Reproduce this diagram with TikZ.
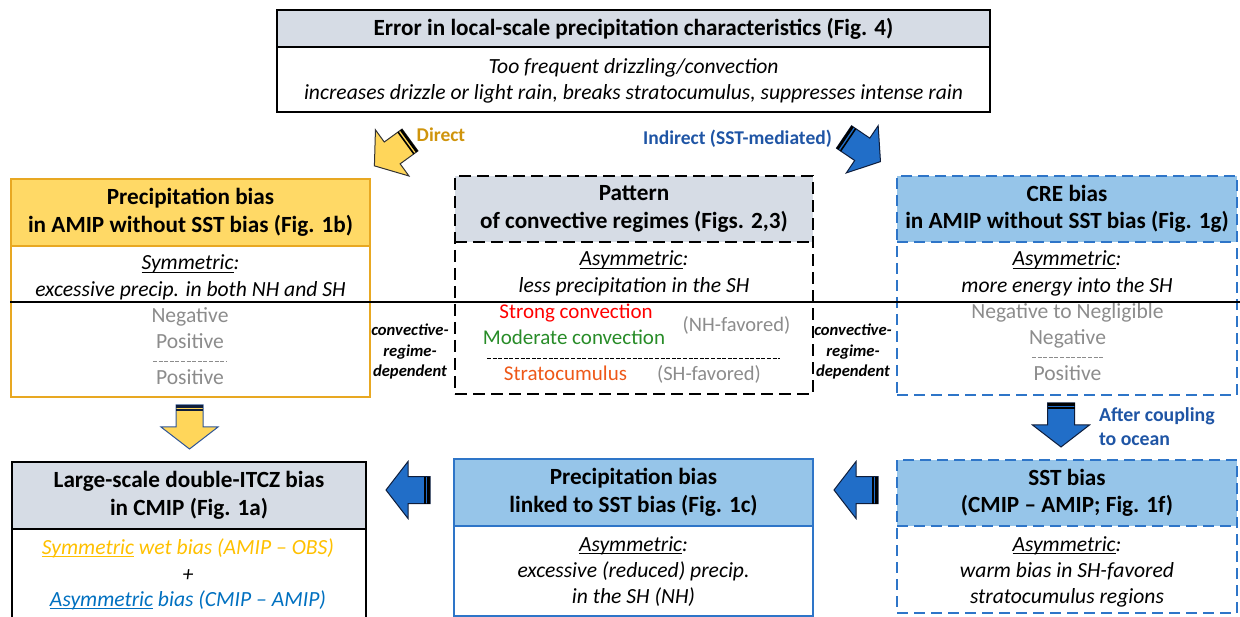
\documentclass[tikz,border=0pt]{standalone}
\usepackage{fontspec}
\setmainfont{Carlito}
\usepackage{xcolor}
\usepackage{tikz}
\usetikzlibrary{calc}

\definecolor{hdrgray}{RGB}{214,220,229}
\definecolor{hdrgold}{RGB}{255,217,102}
\definecolor{edgegold}{RGB}{232,168,34}
\definecolor{txtgold}{RGB}{207,148,12}
\definecolor{hdrblue}{RGB}{150,197,233}
\definecolor{edgeblue}{RGB}{46,117,200}
\definecolor{arrblue}{RGB}{33,110,200}
\definecolor{arrnavy}{RGB}{15,30,60}
\definecolor{txtblue}{RGB}{31,85,165}
\definecolor{valgray}{RGB}{140,140,140}
\definecolor{convgreen}{RGB}{40,140,40}
\definecolor{scorange}{RGB}{238,88,24}
\definecolor{symgold}{RGB}{255,192,0}
\definecolor{asymblue}{RGB}{0,112,192}
\definecolor{arryellow}{RGB}{255,214,90}
\definecolor{yedge}{RGB}{47,85,151}

% underlined word, line through the descenders
\newcommand{\uword}[1]{\setbox0\hbox{#1}\rlap{\rule[-2.6pt]{\wd0}{0.9pt}}\box0\relax}
% block arrow: [scale]{tail}{angle}{fill}{edge}{stripes}
\newcommand{\blockarrow}[6][1]{%
  \begin{scope}[shift={#2}, rotate=#3, x=1pt, y=1pt, scale=#1]
    \filldraw[fill=#4, draw=#5, line width=1pt, line join=miter]
      (0,-13.5) -- (22,-13.5) -- (22,-28.5) -- (44,0) -- (22,28.5) -- (22,13.5) -- (0,13.5) -- cycle;
    \fill[#6] (0,-13.5) rectangle (2.6,13.5);
    \fill[#6] (4.2,-13.5) rectangle (5.8,13.5);
  \end{scope}}

\begin{document}
\begin{tikzpicture}[x=1pt, y=-1pt,
    every node/.style={inner sep=0pt, outer sep=0pt},
    hdr/.style={anchor=north west, align=center, font=\fontsize{23.2}{27.5}\selectfont\bfseries},
    frame/.style={anchor=north west, draw},
    txt/.style={font=\fontsize{21.6}{25}\selectfont, text height=15pt, text depth=3pt},
    itx/.style={txt, font=\fontsize{21.6}{25}\selectfont\itshape},
    val/.style={txt, text=valgray},
    regtxt/.style={txt, font=\fontsize{21}{25}\selectfont},
    convlbl/.style={align=center, font=\fontsize{16.6}{20.5}\selectfont\bfseries\itshape},
    arrlbl/.style={anchor=base, font=\fontsize{19.5}{24}\selectfont\bfseries},
    solidblack/.style={draw=black, line width=1.5pt},
    solidgold/.style={draw=edgegold, line width=2pt},
    solidblue/.style={draw=edgeblue, line width=2pt},
    dashblack/.style={draw=black, line width=1.8pt, dash pattern=on 12pt off 6pt},
    dashblue/.style={draw=edgeblue, line width=1.8pt, dash pattern=on 11pt off 6pt},
    sepline/.style={dash pattern=on 4pt off 1.6pt, line width=0.9pt}]
  \useasboundingbox (0,0) rectangle (1240,617);

  % boxes
  \node[hdr, fill=hdrgray, minimum width=713, minimum height=37] (errh) at (277,10) {Error in local-scale precipitation characteristics (Fig. 4)};
  \node[frame, solidblack, minimum width=713, minimum height=102] (errbox) at (277,10) {};
  \draw[solidblack] (errh.south west) -- (errh.south east);

  \node[hdr, fill=hdrgold, minimum width=359, minimum height=67] (amiph) at (11,179) {Precipitation bias\\in AMIP without SST bias (Fig. 1b)};
  \node[frame, solidgold, minimum width=359, minimum height=218] (amipbox) at (11,179) {};
  \draw[solidgold] (amiph.south west) -- (amiph.south east);

  \node[hdr, fill=hdrgray, minimum width=358, minimum height=66] (regh) at (455,176) {Pattern\\of convective regimes (Figs. 2,3)};
  \node[frame, dashblack, minimum width=358, minimum height=218] (regbox) at (455,176) {};
  \draw[dashblack] (regh.south west) -- (regh.south east);

  \node[hdr, fill=hdrblue, minimum width=340, minimum height=66] (creh) at (897,176) {CRE bias\\in AMIP without SST bias (Fig. 1g)};
  \node[frame, dashblue, minimum width=340, minimum height=219] (crebox) at (897,176) {};
  \draw[dashblue] (creh.south west) -- (creh.south east);

  \node[hdr, fill=hdrgray, minimum width=354, minimum height=67] (itczh) at (12,462) {Large-scale double-ITCZ bias\\in CMIP (Fig. 1a)};
  \node[frame, solidblack, minimum width=354, minimum height=170] (itczbox) at (12,462) {};
  \draw[solidblack] (itczh.south west) -- (itczh.south east);

  \node[hdr, fill=hdrblue, minimum width=359, minimum height=67] (lnkh) at (454,459) {Precipitation bias\\linked to SST bias (Fig. 1c)};
  \node[frame, solidblue, minimum width=359, minimum height=157] (lnkbox) at (454,459) {};
  \draw[solidblue] (lnkh.south west) -- (lnkh.south east);

  \node[hdr, fill=hdrblue, minimum width=340, minimum height=66] (ssth) at (897,460) {SST bias\\(CMIP -- AMIP; Fig. 1f)};
  \node[frame, dashblue, minimum width=340, minimum height=153] (sstbox) at (897,460) {};
  \draw[dashblue] (ssth.south west) -- (ssth.south east);

  % body texts
  \node[itx] (err1) at (633.5,68) {Too frequent drizzling/convection};
  \node[itx] (err2) at (633.5,94) {increases drizzle or light rain, breaks stratocumulus, suppresses intense rain};

  \node[itx] (amip1) at (190.5,264) {\uword{Symmetric}:};
  \node[itx] (amip2) at (190.5,291) {excessive precip. in both NH and SH};
  \node[val] (amipv1) at (190,317) {Negative};
  \node[val] (amipv2) at (190,343) {Positive};
  \draw[sepline, valgray] (153,361) -- (227,361);
  \node[val] (amipv3) at (190,379) {Positive};

  \node[itx] (reg1) at (634,260) {\uword{Asymmetric}:};
  \node[itx] (reg2) at (634,287) {less precipitation in the SH};
  \node[regtxt, text=red] (strong) at (576,313) {Strong convection};
  \node[regtxt, text=convgreen] (moder) at (574,339) {Moderate convection};
  \node[regtxt, text=valgray, font=\fontsize{20.5}{25}\selectfont] (nhfav) at (736.5,326) {(NH-favored)};
  \draw[sepline] (487,358) -- (780,358);
  \node[regtxt, text=scorange] (stcu) at (565.5,375) {Stratocumulus};
  \node[regtxt, text=valgray, font=\fontsize{20.5}{25}\selectfont] (shfav) at (709,375) {(SH-favored)};

  \node[itx] (cre1) at (1067,260) {\uword{Asymmetric}:};
  \node[itx] (cre2) at (1067,287) {more energy into the SH};
  \node[val] (crev1) at (1067.5,313) {Negative to Negligible};
  \node[val] (crev2) at (1067.5,339) {Negative};
  \draw[sepline, valgray] (1032,357) -- (1103,357);
  \node[val] (crev3) at (1067.5,375) {Positive};

  \node[itx, text=symgold] (sym) at (188,548) {\uword{Symmetric} wet bias (AMIP -- OBS)};
  \node[itx] (plus) at (188,575) {+};
  \node[itx, text=asymblue] (asym) at (188,600) {\uword{Asymmetric} bias (CMIP -- AMIP)};

  \node[itx] (lnk1) at (633.5,545) {\uword{Asymmetric}:};
  \node[itx] (lnk2) at (633.5,571) {excessive (reduced) precip.};
  \node[itx] (lnk3) at (633.5,597) {in the SH (NH)};

  \node[itx] (sst1) at (1067,545) {\uword{Asymmetric}:};
  \node[itx] (sst2) at (1067,571) {warm bias in SH-favored};
  \node[itx] (sst3) at (1067,597) {stratocumulus regions};

  \node[convlbl] (convl) at (410,351.5) {convective-\\regime-\\dependent};
  \node[convlbl] (convr) at (853,351.5) {convective-\\regime-\\dependent};

  \draw[line width=1.5pt] (10,302) -- (1240,302);

  % block arrows
  \coordinate (dirtail) at (410,140);
  \coordinate (indtail) at (844,137);
  \coordinate (amiptail) at (189.5,405);
  \coordinate (cpltail) at (1061,403);
  \coordinate (ssttail) at (878,490);
  \coordinate (lnktail) at (430,490);
  \blockarrow{(dirtail)}{216}{arryellow}{black!80}{black}
  \blockarrow{(indtail)}{-34}{arrblue}{arrnavy}{black}
  \blockarrow{(amiptail)}{-90}{arryellow}{yedge}{arrnavy}
  \blockarrow{(cpltail)}{-90}{arrblue}{arrnavy}{black}
  \blockarrow{(ssttail)}{180}{arrblue}{arrnavy}{black}
  \blockarrow{(lnktail)}{180}{arrblue}{arrnavy}{black}

  \node[arrlbl, text=txtgold] (dirlbl) at (441,142) {Direct};
  \node[arrlbl, text=txtblue] (indlbl) at (737.5,145) {Indirect (SST-mediated)};
  \node[anchor=west, align=left, font=\fontsize{19.8}{24}\selectfont\bfseries, text=txtblue] (cpllbl) at (1099,427) {After coupling\\to ocean};
\end{tikzpicture}
\end{document}
